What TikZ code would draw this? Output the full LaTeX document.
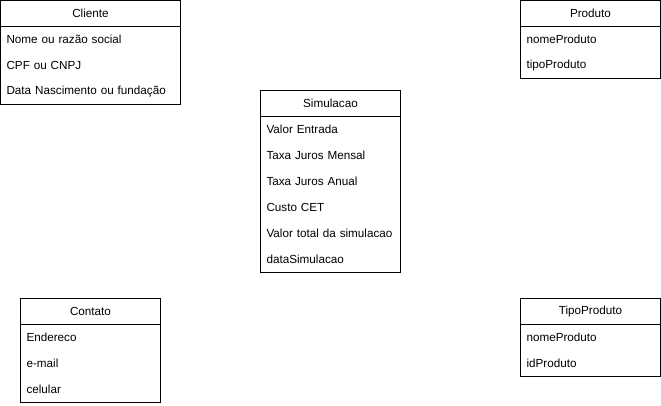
\documentclass[tikz,border=0pt]{standalone}
\usepackage{fontspec}
\setmainfont{Liberation Sans}
\usepackage{tikz}
\usetikzlibrary{positioning,fit}
\newcommand{\attrfont}{\fontsize{11.7}{14}\selectfont\hyphenpenalty=10000\relax}

\begin{document}
\begin{tikzpicture}[
  x=1pt, y=-1pt,
  node distance=0pt,
  head/.style={draw, line width=1pt, minimum height=26pt, inner sep=0pt, outer sep=0pt, font=\fontsize{11.7}{14}\selectfont},
  attr/.style={minimum height=26pt, inner xsep=6pt, inner ysep=0pt, outer sep=0pt, align=left, font=\attrfont},
  frame/.style={draw, line width=1pt, inner sep=0pt, outer sep=0pt}
]
\useasboundingbox (0,0) rectangle (661,406);

% Cliente
\node[head, minimum width=180pt] (cliente) at (90.5,13.5) {Cliente};
\node[attr, text width=168pt, below=of cliente] (cli1) {Nome ou razão social};
\node[attr, text width=168pt, below=of cli1] (cli2) {CPF ou CNPJ};
\node[attr, text width=168pt, below=of cli2] (cli3) {Data Nascimento ou fundação};
\node[frame, fit=(cliente)(cli3)] (cliframe) {};

% Produto
\node[head, minimum width=140pt] (produto) at (590.5,13.5) {Produto};
\node[attr, text width=128pt, below=of produto] (pro1) {nomeProduto};
\node[attr, text width=128pt, below=of pro1] (pro2) {tipoProduto};
\node[frame, fit=(produto)(pro2)] (proframe) {};

% Simulacao
\node[head, minimum width=140pt] (simulacao) at (330.5,103.5) {Simulacao};
\node[attr, text width=128pt, below=of simulacao] (sim1) {Valor Entrada};
\node[attr, text width=128pt, below=of sim1] (sim2) {Taxa Juros Mensal};
\node[attr, text width=128pt, below=of sim2] (sim3) {Taxa Juros Anual};
\node[attr, text width=128pt, below=of sim3] (sim4) {Custo CET};
\node[attr, text width=128pt, below=of sim4] (sim5) {Valor total da simulacao};
\node[attr, text width=128pt, below=of sim5] (sim6) {dataSimulacao};
\node[frame, fit=(simulacao)(sim6)] (simframe) {};

% Contato
\node[head, minimum width=140pt] (contato) at (90.5,311.5) {Contato};
\node[attr, text width=128pt, below=of contato] (con1) {Endereco};
\node[attr, text width=128pt, below=of con1] (con2) {e-mail};
\node[attr, text width=128pt, below=of con2] (con3) {celular};
\node[frame, fit=(contato)(con3)] (conframe) {};

% TipoProduto
\node[head, minimum width=140pt] (tipoproduto) at (590.5,311.5) {TipoProduto};
\node[attr, text width=128pt, below=of tipoproduto] (tip1) {nomeProduto};
\node[attr, text width=128pt, below=of tip1] (tip2) {idProduto};
\node[frame, fit=(tipoproduto)(tip2)] (tipframe) {};

\end{tikzpicture}
\end{document}
